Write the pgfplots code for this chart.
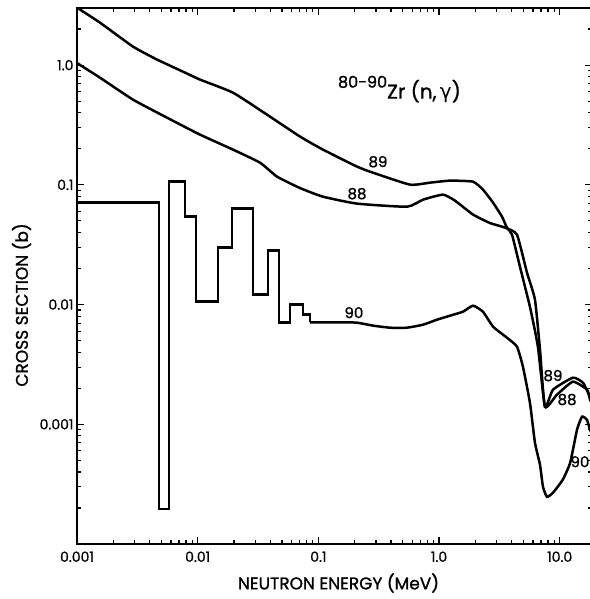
\documentclass[border=0pt]{standalone}
\usepackage{fontspec}
\setmainfont{Poppins}[UprightFeatures={FakeBold=1.2}]
\newfontfamily\dejavu{DejaVu Sans}
\usepackage{pgfplots}
\pgfplotsset{compat=1.18}
\begin{document}
\begin{tikzpicture}
\begin{axis}[
  xmode=log, ymode=log,
  scale only axis, width=515pt, height=536pt,
  xmin=0.001, xmax=18.5, ymin=1e-4, ymax=3,
  xtick={0.001,0.01,0.1,1,10}, xticklabels={0.001,0.01,0.1,1.0,10.0},
  ytick={0.001,0.01,0.1,1}, yticklabels={0.001,0.01,0.1,1.0},
  minor xtick={0.002,0.003,0.004,0.005,0.006,0.007,0.008,0.009,0.02,0.03,0.04,0.05,0.06,0.07,0.08,0.09,0.2,0.3,0.4,0.5,0.6,0.7,0.8,0.9,2,3,4,5,6,7,8,9},
  minor ytick={0.0002,0.0003,0.0004,0.0005,0.0006,0.0007,0.0008,0.0009,0.002,0.003,0.004,0.005,0.006,0.007,0.008,0.009,0.02,0.03,0.04,0.05,0.06,0.07,0.08,0.09,0.2,0.3,0.4,0.5,0.6,0.7,0.8,0.9,2},
  tick align=inside, major tick length=7pt, minor tick length=4pt,
  every tick/.style={line width=1.2pt, black},
  axis line style={line width=2.2pt},
  ticklabel style={font=\fontsize{14}{14}\selectfont},
  xticklabel style={yshift=-4pt},
  /pgf/number format/assume math mode=true,
  every axis plot/.append style={line width=2.5pt, black},
]
\coordinate (bl) at (rel axis cs:0,0);
\coordinate (tr) at (rel axis cs:1,1);
% 89Zr
\addplot[smooth, tension=0.3] coordinates {
(0.001,3.02) (0.00155,2.265) (0.00291,1.428) (0.00461,1.112) (0.00755,0.882) (0.01045,0.757) (0.01959,0.589) (0.0375,0.386) (0.0705,0.253) (0.109,0.197) (0.209,0.142) (0.283,0.1264) (0.574,0.1004) (0.841,0.1043) (1.231,0.1084) (1.909,0.1063) (2.31,0.0912) (2.80,0.0710) (3.32,0.0543) (3.65,0.0439) (4.02,0.0384) (4.68,0.0207) (5.66,0.00960) (6.59,0.00445) (7.54,0.001403) (8.79,0.001945) (12.85,0.00245) (15.6,0.00222) (17.8,0.00170) (18.5,0.00160)
};
% 88Zr
\addplot[smooth, tension=0.3] coordinates {
(0.001,1.04) (0.00155,0.786) (0.00291,0.515) (0.00557,0.364) (0.01045,0.2627) (0.01959,0.197) (0.0328,0.1533) (0.0454,0.1172) (0.0705,0.094) (0.109,0.0797) (0.209,0.0697) (0.542,0.0657) (0.736,0.0752) (1.077,0.0828) (1.35,0.0740) (1.909,0.0565) (2.64,0.0480) (3.52,0.0439) (4.42,0.0384) (5.35,0.0185) (6.23,0.0110) (6.86,0.00420) (7.54,0.001403) (9.48,0.001767) (12.85,0.00227) (16.8,0.00195) (17.8,0.00161) (18.5,0.00150)
};
% 90Zr histogram part
\addplot[sharp plot] coordinates {
(0.001,0.0714) (0.00477,0.0714) (0.00477,0.000197) (0.00578,0.000197) (0.00578,0.107) (0.00785,0.107) (0.00785,0.0542) (0.00969,0.0542) (0.00969,0.01063) (0.01473,0.01063) (0.01473,0.0299) (0.01923,0.0299) (0.01923,0.0633) (0.0287,0.0633) (0.0287,0.0121) (0.0382,0.0121) (0.0382,0.0282) (0.0472,0.0282) (0.0472,0.00706) (0.0582,0.00706) (0.0582,0.00998) (0.0745,0.00998) (0.0745,0.00824) (0.0851,0.00824) (0.0851,0.0071)
};
% 90Zr smooth part
\addplot[smooth, tension=0.3] coordinates {
(0.0851,0.0071) (0.160,0.0071) (0.209,0.00706) (0.283,0.00667) (0.392,0.00641) (0.542,0.00641) (0.736,0.00679) (0.962,0.00748) (1.231,0.00807) (1.578,0.00872) (1.909,0.00979) (2.31,0.00872) (2.80,0.00654) (3.65,0.00529) (4.42,0.00445) (4.95,0.00303) (5.66,0.001515) (6.23,0.000702) (6.86,0.000459) (7.26,0.000301) (7.83,0.000248) (8.79,0.000268) (10.6,0.000345) (12.2,0.000478) (13.9,0.000901) (15.3,0.001157) (16.8,0.00109) (17.8,0.000901) (18.5,0.00083)
};
\begin{scope}[every node/.style={font=\fontsize{15}{15}\selectfont, inner sep=1pt}]
\node at (axis cs:0.312,0.156) {89};
\node at (axis cs:0.209,0.0844) {88};
\node at (axis cs:0.197,0.00856) {90};
\node at (axis cs:8.79,0.00255) {89};
\node at (axis cs:11.5,0.00161) {88};
\node at (axis cs:14.7,0.000487) {90};
\end{scope}
\node[anchor=base west, inner sep=0pt, font=\fontsize{20}{20}\selectfont] at (axis cs:0.145,0.525) {\raisebox{11pt}{\fontsize{16}{16}\selectfont 80-90}Zr\ (n,\,{\dejavu γ})};
\end{axis}
\node[rotate=90, font=\fontsize{17}{17}\selectfont] at ([shift={(-55.5pt,239pt)}]bl) {CROSS SECTION (b)};
\node[font=\fontsize{17}{17}\selectfont] at ([shift={(261.5pt,-39pt)}]bl) {NEUTRON ENERGY (MeV)};
\pgfresetboundingbox
\path[use as bounding box] ([shift={(-77pt,-55pt)}]bl) rectangle ([shift={(-2.5pt,8pt)}]tr);
\end{tikzpicture}
\end{document}
